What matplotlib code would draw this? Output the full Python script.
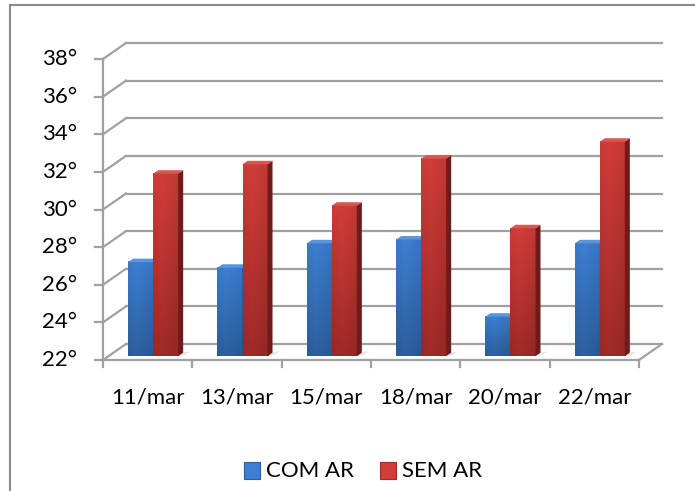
import numpy as np
import matplotlib.pyplot as plt
from matplotlib.patches import Polygon, Rectangle
from matplotlib.lines import Line2D

plt.rcParams['font.family'] = ['Lato', 'DejaVu Sans']

# temperaturas medidas
datas = ['11/mar', '13/mar', '15/mar', '18/mar', '20/mar', '22/mar']
com_ar = [27.0, 26.7, 28.0, 28.2, 24.1, 28.0]
sem_ar = [31.7, 32.2, 30.0, 32.5, 28.8, 33.4]
series = ['COM AR', 'SEM AR']
yticks = [22, 24, 26, 28, 30, 32, 34, 36, 38]

# cores (topo, base, lateral, tampa)
cores = {
    'COM AR': ('#3d7fd2', '#2c5f9f', '#24497a', '#5a95dc'),
    'SEM AR': ('#d23d39', '#a02a27', '#6e1c1b', '#dc5651'),
}
grid_col = '#a0a0a0'

W, H = 695, 491
fig = plt.figure(figsize=(W / 100, H / 100), dpi=100)

# plano frontal da caixa 3d (pixels)
left, right, bottom, top = 103, 639, 360, 59
ax = fig.add_axes([left / W, 1 - bottom / H, (right - left) / W, (bottom - top) / H])
n = len(datas)
ymin, ymax = yticks[0], yticks[-1]
ax.set_xlim(0.5, n + 0.5)
ax.set_ylim(ymin, ymax)
ax.axis('off')

sx = n / (right - left)
sy = (ymax - ymin) / (bottom - top)
DX, DY = 23, 16


def off(px):
    # deslocamento em profundidade (projecao obliqua) em unidades de dados
    return px * sx, px * DY / DX * sy


bx, by = off(DX)
x0, x1 = 0.5, n + 0.5

# parede do fundo, parede lateral e eixo vertical
for t in yticks:
    ax.plot([x0 + bx, x1 + bx], [t + by, t + by], color=grid_col, lw=1.6, clip_on=False, zorder=1)
    ax.plot([x0, x0 + bx], [t, t + by], color=grid_col, lw=1.6, clip_on=False, zorder=1)
    ax.plot([x0 - 8 * sx, x0], [t, t], color=grid_col, lw=1.6, clip_on=False, zorder=1)
    ax.text(x0 - 26 * sx, t, f'{t}°', ha='right', va='center', fontsize=16, color='black')
ax.plot([x0, x0], [ymin, ymax], color=grid_col, lw=1.6, clip_on=False, zorder=1)

# chao
ax.plot([x0, x1], [ymin, ymin], color=grid_col, lw=1.6, clip_on=False, zorder=1)
ax.plot([x1, x1 + bx], [ymin, ymin + by], color=grid_col, lw=1.6, clip_on=False, zorder=1)
for k in range(n + 1):
    ax.plot([k + 0.5, k + 0.5], [ymin, ymin - 7 * sy], color=grid_col, lw=1.6, clip_on=False, zorder=1)
for i, d in enumerate(datas):
    ax.text(i + 1, ymin - 38 * sy, d, ha='center', va='center', fontsize=16)

# barras
w = 0.28
fx, fy = off(5.5)
kx, ky = off(10.5)
z = 3
for i in range(n):
    for s, nome in enumerate(series):
        v = [com_ar, sem_ar][s][i]
        c_top, c_bot, c_side, c_cap = cores[nome]
        a = i + 1 - w + s * w + fx
        b = a + w
        y0, y1 = ymin + fy, v + fy
        # sombra no chao
        ax.add_patch(Polygon([(b, y0), (b + 6 * sx, y0 + 1 * sy), (b + 12 * sx, y0 + 5 * sy), (b + kx - fx, y0 + ky - fy)],
                             closed=True, color='#cfcfcf', alpha=0.6, lw=0, zorder=2))
        # face frontal com degrade vertical
        t1 = np.array(plt.matplotlib.colors.to_rgb(c_top))
        t0 = np.array(plt.matplotlib.colors.to_rgb(c_bot))
        vv = np.linspace(0, 1, 64)[:, None]
        hh = np.linspace(0, 1, 16)[None, :]
        shade = 1 - 0.12 * np.abs(hh - 0.35)
        img = (t0[None, None, :] * (1 - vv[..., None]) + t1[None, None, :] * vv[..., None]) * shade[..., None]
        ax.imshow(np.clip(img, 0, 1), extent=[a, b, y0, y1], origin='lower', aspect='auto',
                  interpolation='bilinear', zorder=z)
        # lateral e tampa
        ax.add_patch(Polygon([(b, y0), (b + kx - fx, ymin + ky), (b + kx - fx, v + ky), (b, y1)],
                             closed=True, color=c_side, lw=0, zorder=z))
        ax.add_patch(Polygon([(a, y1), (b, y1), (b + kx - fx, v + ky), (a + kx - fx, v + ky)],
                             closed=True, color=c_cap, lw=0, zorder=z))
        z += 1

ax.set_xlim(0.5, n + 0.5)
ax.set_ylim(ymin, ymax)

# legenda
ly = 1 - 471 / H
for nome, cx, tx in [('COM AR', 252, 266), ('SEM AR', 388, 402)]:
    fig.add_artist(Rectangle(((cx - 8) / W, ly - 8 / H), 16 / W, 17 / H, transform=fig.transFigure,
                             facecolor=cores[nome][0], edgecolor=cores[nome][1], lw=0.8))
    fig.text(tx / W, ly, nome, ha='left', va='center', fontsize=16)

# moldura
fig.add_artist(Line2D([10 / W, 10 / W], [0, 1 - 5 / H], transform=fig.transFigure, color='#8a8a8a', lw=1.5))
fig.add_artist(Line2D([10 / W, 1], [1 - 5 / H, 1 - 5 / H], transform=fig.transFigure, color='#8a8a8a', lw=1.5))

fig.savefig('out.png', dpi=100)
